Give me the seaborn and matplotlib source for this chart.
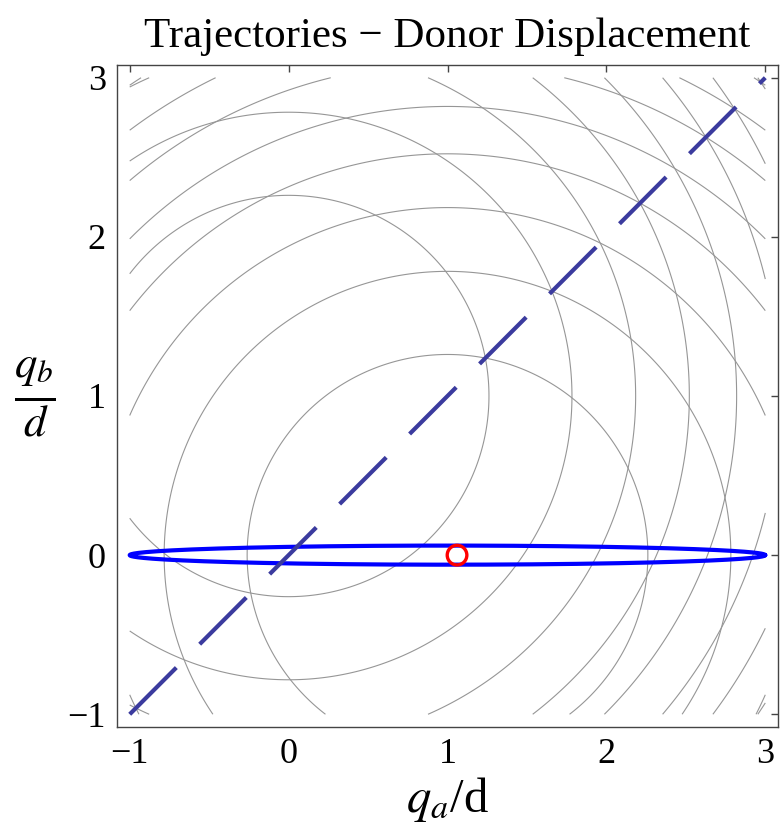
import numpy as np
import pandas as pd
import matplotlib
matplotlib.use("Agg")
import matplotlib.pyplot as plt
import seaborn as sns

# Harmonic wells of the two diabatic surfaces (equilibrium positions)
well_qa = [0.0, 1.0]
well_qb = [1.0, 0.0]
# Energy levels of the contour lines
energy_levels = [1.59, 3.18, 4.77, 6.36, 7.95, 9.54, 11.13, 12.72]

# Donor trajectory: closed orbit about its centre
orbit_center_qa = 1.0
orbit_center_qb = 0.0
orbit_amp_qa = 2.0
orbit_amp_qb = 0.06

# Seam between the two surfaces (qa = qb)
seam_qa = [-1.0, 3.0]
seam_qb = [-1.0, 3.0]

# Starting point of the trajectory
start_qa = [1.06]
start_qb = [0.0]

ticks = [-1, 0, 1, 2, 3]
tick_labels = ["\u22121", "0", "1", "2", "3"]

sns.set_theme(style="white")
plt.rcParams["font.family"] = ["Liberation Serif", "DejaVu Serif"]
plt.rcParams["mathtext.fontset"] = "stix"

fig = plt.figure(figsize=(7.81, 8.27), dpi=100)
ax = fig.add_axes([117 / 781, 1 - 727 / 827, 661 / 781, 662 / 827])

# contour lines of both surfaces, restricted to the plotted region
grid = np.linspace(-1.0, 3.0, 801)
QA, QB = np.meshgrid(grid, grid)
for cqa, cqb in zip(well_qa, well_qb):
    energy = (QA - cqa) ** 2 + (QB - cqb) ** 2
    ax.contour(QA, QB, energy, levels=energy_levels,
               colors="#969696", linewidths=0.8)

# donor trajectory
t = np.linspace(0.0, 2.0 * np.pi, 721)
orbit = pd.DataFrame({
    "qa": orbit_center_qa + orbit_amp_qa * np.cos(t),
    "qb": orbit_center_qb + orbit_amp_qb * np.sin(t),
})
sns.lineplot(data=orbit, x="qa", y="qb", sort=False, estimator=None,
             color="#0000ff", linewidth=3.0, ax=ax)

# dashed seam line
sns.lineplot(x=seam_qa, y=seam_qb, color="#3b3b9e", linewidth=3.0,
             estimator=None, ax=ax)
seam_line = ax.lines[-1]
seam_line.set_dashes((47.5 / 3.0, 23.8 / 3.0))
seam_line.set_solid_capstyle("butt")
seam_line.set_dash_capstyle("butt")

# starting point
sns.scatterplot(x=start_qa, y=start_qb, s=200, ax=ax, zorder=5)
pt = ax.collections[-1]
pt.set_facecolor("none")
pt.set_edgecolor("#ff0000")
pt.set_linewidth(2.4)

ax.set_xlim(-1.08, 3.08)
ax.set_ylim(-1.08, 3.08)
ax.set_xticks(ticks)
ax.set_xticklabels(tick_labels)
ax.set_yticks(ticks)
ax.set_yticklabels(tick_labels)
ax.tick_params(direction="in", length=5, width=1, color="#444444",
               top=True, right=True, labelsize=26, pad=8,
               labelcolor="black")
for sp in ax.spines.values():
    sp.set_color("#444444")
    sp.set_linewidth(1.0)

ax.set_title("Trajectories \u2212 Donor Displacement", fontsize=31,
             pad=13, color="black")
ax.set_xlabel("$q_a$/d", fontsize=35, color="black")
ax.xaxis.set_label_coords(0.5, -0.072)
ax.set_ylabel(r"$\frac{q_b}{d}$", fontsize=46, rotation=0, color="black",
              va="center", ha="center")
ax.yaxis.set_label_coords(-0.124, 0.5 + (394 - 396) / 662)

fig.savefig("out.png", dpi=100)
